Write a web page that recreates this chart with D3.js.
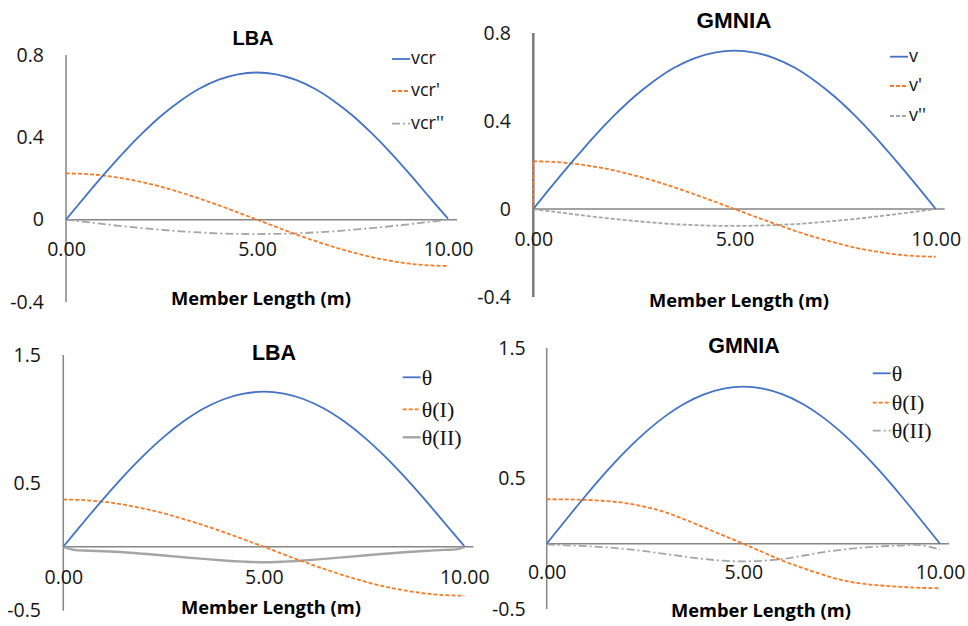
<!DOCTYPE html>
<html>
<head>
<meta charset="utf-8">
<script src="https://cdn.jsdelivr.net/npm/d3@7"></script>
<style>
  html, body { margin: 0; padding: 0; background: #fff; }
  svg { display: block; }
</style>
</head>
<body>
<svg id="chart" width="968" height="626"></svg>
<script>
// ---------------- DATA ----------------
const memberX = [0,0.5,1,1.5,2,2.5,3,3.5,4,4.5,5,5.5,6,6.5,7,7.5,8,8.5,9,9.5,10];
const xTickLabels = ["0.00","5.00","10.00"];
const xTickValues = [0,5,10];

// Top-left: LBA displacements
const lbaV   = [0,0.112,0.221,0.325,0.420,0.506,0.578,0.637,0.680,0.706,0.715,0.706,0.680,0.637,0.578,0.506,0.420,0.325,0.221,0.112,0.005];
const lbaV1  = [0.225,0.222,0.214,0.200,0.182,0.159,0.132,0.102,0.070,0.035,0,-0.035,-0.070,-0.102,-0.132,-0.159,-0.182,-0.200,-0.214,-0.222,-0.225];
const lbaV2  = [0,-0.011,-0.022,-0.032,-0.041,-0.049,-0.057,-0.062,-0.067,-0.069,-0.070,-0.069,-0.067,-0.062,-0.057,-0.049,-0.041,-0.032,-0.022,-0.011,0];
const topYTicks = [0.8,0.4,0,-0.4];

// Top-right: GMNIA displacements (v' starts with a jump at x = 0)
const gmnV   = [0,0.113,0.222,0.327,0.423,0.509,0.582,0.642,0.685,0.711,0.720,0.711,0.685,0.642,0.582,0.509,0.423,0.327,0.222,0.113,0];
const gmnV1X = [0,0,0.5,1,1.5,2,2.5,3,3.5,4,4.5,5,5.5,6,6.5,7,7.5,8,8.5,9,9.5,10];
const gmnV1  = [0,0.217,0.214,0.206,0.193,0.176,0.153,0.128,0.099,0.067,0.034,0,-0.034,-0.067,-0.099,-0.128,-0.153,-0.176,-0.193,-0.206,-0.214,-0.217];
const gmnV2  = [0,-0.012,-0.024,-0.035,-0.045,-0.054,-0.062,-0.069,-0.073,-0.076,-0.077,-0.076,-0.073,-0.069,-0.062,-0.054,-0.045,-0.035,-0.024,-0.012,0];

// Bottom-left: LBA twist
const lbaT   = [0,0.190,0.375,0.551,0.713,0.858,0.981,1.081,1.154,1.198,1.213,1.198,1.154,1.081,0.981,0.858,0.713,0.551,0.375,0.190,0.005];
const lbaT1  = [0.370,0.365,0.352,0.330,0.299,0.262,0.217,0.168,0.114,0.058,0,-0.060,-0.118,-0.173,-0.224,-0.270,-0.310,-0.341,-0.364,-0.378,-0.383];
const lbaT2X = [0,0.3,0.5,1,1.5,2,2.5,3,3.5,4,4.5,5,5.5,6,6.5,7,7.5,8,8.5,9,9.5,9.8,10];
const lbaT2  = [0,-0.026,-0.029,-0.035,-0.043,-0.055,-0.068,-0.082,-0.095,-0.107,-0.116,-0.121,-0.116,-0.107,-0.095,-0.082,-0.068,-0.055,-0.043,-0.033,-0.024,-0.020,-0.003];
const botYTicks = [1.5,0.5,-0.5];

// Bottom-right: GMNIA twist
const gmnT   = [0,0.188,0.372,0.547,0.708,0.851,0.974,1.073,1.145,1.189,1.204,1.189,1.145,1.073,0.974,0.851,0.708,0.547,0.372,0.188,0];
const gmnT1  = [0.341,0.340,0.336,0.327,0.312,0.283,0.243,0.187,0.125,0.062,0,-0.065,-0.130,-0.185,-0.235,-0.278,-0.305,-0.320,-0.330,-0.338,-0.341];
const gmnT2  = [-0.005,-0.012,-0.018,-0.027,-0.040,-0.057,-0.078,-0.098,-0.117,-0.130,-0.135,-0.130,-0.117,-0.092,-0.066,-0.046,-0.030,-0.020,-0.014,-0.010,-0.045];

// ---------------- STYLE ----------------
const BLUE = "#4472C4", ORANGE = "#F47B2A", GREY = "#A5A5A5", AXIS = "#858585";
const SANS = "'Open Sans', 'Noto Sans', sans-serif";
const SERIF = "'Liberation Serif', 'DejaVu Serif', serif";
const ARIAL = "'Liberation Sans', Arial, sans-serif";
const TXT = "#141414";

const panels = [
  { title: "LBA", titleSize: 20, titleX: 253, titleY: 38,
    xr: [66, 448], yr: [302, 55], yd: [-0.4, 0.8], yTicks: topYTicks, yLabelX: 44, yAxisW: 1.5,
    xPad: 22, axisTitleX: 261, axisTitleY: 298,
    legX: 392, legFont: SANS, legSize: 18, legDy: "0.27em", legY: [59, 91, 123.7],
    series: [
      { name: "vcr",  xs: memberX, ys: lbaV,  color: BLUE,   dash: null,       w: 1.8 },
      { name: "vcr'", xs: memberX, ys: lbaV1, color: ORANGE, dash: "4,2",      w: 1.8 },
      { name: "vcr''",xs: memberX, ys: lbaV2, color: GREY,   dash: "8,3,2,3",  w: 1.8 } ] },
  { title: "GMNIA", titleSize: 22.5, titleX: 734, titleY: 20,
    xr: [533.3, 935.7], yr: [297, 33], yd: [-0.4, 0.8], yTicks: topYTicks, yLabelX: 511, yAxisW: 2.5,
    xPad: 23, axisTitleX: 739, axisTitleY: 300,
    legX: 890, legFont: SANS, legSize: 18, legDy: "0.27em", legY: [56.7, 86, 116],
    series: [
      { name: "v",   xs: memberX, ys: gmnV,  color: BLUE,   dash: null,  w: 1.8 },
      { name: "v'",  xs: gmnV1X,  ys: gmnV1, color: ORANGE, dash: "4,2", w: 1.8 },
      { name: "v''", xs: memberX, ys: gmnV2, color: GREY,   dash: "4,2", w: 1.8 } ] },
  { title: "LBA", titleSize: 21.5, titleX: 274, titleY: 352,
    xr: [63.3, 464.3], yr: [610.7, 355], yd: [-0.5, 1.5], yTicks: botYTicks, yLabelX: 41, yAxisW: 1.5,
    xPad: 23, axisTitleX: 271, axisTitleY: 607,
    legX: 402.7, legFont: SERIF, legSize: 22, legDy: "0.33em", legY: [377.3, 409.3, 437.3],
    series: [
      { name: "θ",     xs: memberX, ys: lbaT,  color: BLUE,   dash: null,  w: 1.8 },
      { name: "θ(I)",  xs: memberX, ys: lbaT1, color: ORANGE, dash: "4,2", w: 1.8 },
      { name: "θ(II)", xs: lbaT2X,  ys: lbaT2, color: GREY,   dash: null,  w: 2.4 } ] },
  { title: "GMNIA", titleSize: 21.5, titleX: 744, titleY: 345,
    xr: [546.7, 940], yr: [609, 348], yd: [-0.5, 1.5], yTicks: botYTicks, yLabelX: 525.7, yAxisW: 1.5,
    xPad: 21, axisTitleX: 761, axisTitleY: 610,
    legX: 872.7, legFont: SERIF, legSize: 22, legDy: "0.33em", legY: [373.3, 402.7, 430.7],
    series: [
      { name: "θ",     xs: memberX, ys: gmnT,  color: BLUE,   dash: null,      w: 1.8 },
      { name: "θ(I)",  xs: memberX, ys: gmnT1, color: ORANGE, dash: "4,2",     w: 1.8 },
      { name: "θ(II)", xs: memberX, ys: gmnT2, color: GREY,   dash: "8,3,2,3", w: 1.8 } ] }
];

const svg = d3.select("#chart");

panels.forEach(p => {
  const g = svg.append("g");
  const x = d3.scaleLinear().domain([0, 10]).range(p.xr);
  const y = d3.scaleLinear().domain(p.yd).range(p.yr);

  // y axis
  const yAxis = d3.axisLeft(y).tickValues(p.yTicks).tickSize(0).tickPadding(0)
    .tickFormat(d => d === 0 ? "0" : String(d));
  const ya = g.append("g").attr("transform", `translate(${p.yLabelX},0)`).call(yAxis);
  ya.select(".domain").remove();
  ya.selectAll("text").attr("font-family", SANS).attr("font-size", 19.5).attr("fill", TXT);
  g.append("line")
    .attr("x1", x(0)).attr("x2", x(0)).attr("y1", y(p.yd[1])).attr("y2", y(p.yd[0]))
    .attr("stroke", p.yAxisW > 2 ? "#7a7a7a" : AXIS).attr("stroke-width", p.yAxisW);

  // x axis (zero line)
  g.append("line")
    .attr("x1", x(0)).attr("x2", x(10) + 9).attr("y1", y(0)).attr("y2", y(0))
    .attr("stroke", AXIS).attr("stroke-width", 1.5);
  const xAxis = d3.axisBottom(x).tickValues(xTickValues).tickSize(0).tickPadding(p.xPad)
    .tickFormat((d, i) => xTickLabels[i]);
  const xa = g.append("g").attr("transform", `translate(0,${y(0)})`).call(xAxis);
  xa.select(".domain").remove();
  xa.selectAll("text").attr("font-family", SANS).attr("font-size", 19.5).attr("fill", TXT);

  // series
  const smooth = d3.line().x(d => x(d[0])).y(d => y(d[1])).curve(d3.curveCatmullRom.alpha(0.5));
  const straight = d3.line().x(d => x(d[0])).y(d => y(d[1]));
  p.series.slice().reverse().forEach(s => {
    let pts = s.xs.map((v, i) => [v, s.ys[i]]);
    const segs = [];
    if (pts.length > 2 && pts[0][0] === pts[1][0]) {
      // vertical jump at the start: draw it straight, then the smooth curve
      segs.push(straight(pts.slice(0, 2)));
      pts = pts.slice(1);
    }
    segs.push(smooth(pts));
    g.append("path")
      .attr("d", segs.join(" "))
      .attr("fill", "none")
      .attr("stroke", s.color)
      .attr("stroke-width", s.w)
      .attr("stroke-dasharray", s.dash)
      .attr("stroke-linejoin", "round");
  });

  // title
  g.append("text").attr("x", p.titleX).attr("y", p.titleY).attr("dy", "0.36em")
    .attr("text-anchor", "middle").attr("font-family", ARIAL).attr("font-weight", "bold")
    .attr("font-size", p.titleSize).attr("fill", "#000").text(p.title);

  // axis title
  g.append("text").attr("x", p.axisTitleX).attr("y", p.axisTitleY).attr("dy", "0.36em")
    .attr("text-anchor", "middle").attr("font-family", SANS).attr("font-weight", "bold")
    .attr("font-size", 18.3).attr("fill", "#000").text("Member Length (m)");

  // legend
  p.series.forEach((s, i) => {
    const ly = p.legY[i];
    g.append("line").attr("x1", p.legX).attr("x2", p.legX + 18).attr("y1", ly).attr("y2", ly)
      .attr("stroke", s.color).attr("stroke-width", s.w).attr("stroke-dasharray", s.dash);
    g.append("text").attr("x", p.legX + 19).attr("y", ly).attr("dy", p.legDy)
      .attr("font-family", p.legFont).attr("font-size", p.legSize).attr("fill", TXT).text(s.name);
  });
});
</script>
</body>
</html>
